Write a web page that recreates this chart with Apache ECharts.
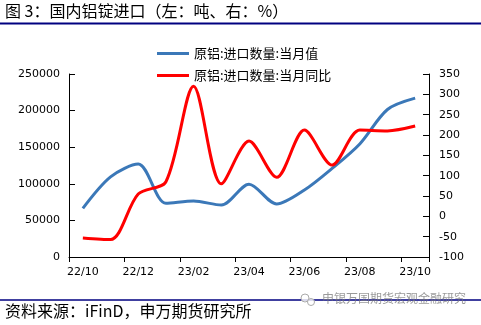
<!DOCTYPE html>
<html><head><meta charset="utf-8">
<script src="https://cdn.jsdelivr.net/npm/echarts@6/dist/echarts.min.js"></script>
<style>html,body{margin:0;padding:0;background:#fff}#c{width:481px;height:325px}</style>
</head><body><div id="c"></div>
<script>
const categories = ['22/10','22/11','22/12','23/01','23/02','23/03','23/04','23/05','23/06','23/07','23/08','23/09','23/10'];
const importVolume = [66500, 109500, 127000, 73500, 76500, 71000, 99500, 72500, 91500, 121000, 154500, 201500, 217000];
const importYoY = [-53, -57, 55, 85, 320, 80, 185, 96, 212, 126, 212, 210, 222];
const seriesNames = ['原铝:进口数量:当月值', '原铝:进口数量:当月同比'];
const leftTicks = {min: 0, max: 250000, interval: 50000};
const rightTicks = {min: -100, max: 350, interval: 50};
const titleText = '图 3：国内铝锭进口（左：吨、右：%）';
const sourceText = '资料来源：iFinD，申万期货研究所';
const watermarkText = '申银万国期货宏观金融研究';

const chart = echarts.init(document.getElementById('c'), null, {renderer: 'canvas'});
const axisFont = {fontFamily: 'DejaVu Sans', fontSize: 11, color: '#000'};
const cjk = '"Noto Sans CJK SC", "Noto Sans", sans-serif';
chart.setOption({
  animation: false,
  backgroundColor: '#fff',
  grid: {left: 69, right: 52, top: 74, bottom: 68},
  legend: {
    orient: 'vertical', left: 152, top: 42, itemGap: 9,
    itemWidth: 32, itemHeight: 3, icon: 'rect',
    textStyle: {fontFamily: cjk, fontSize: 13, color: '#000'},
    data: seriesNames
  },
  xAxis: {
    type: 'category', data: categories, boundaryGap: true,
    axisLine: {lineStyle: {color: '#000', width: 1}},
    axisTick: {show: true, interval: 1, length: 5, lineStyle: {color: '#000'}},
    axisLabel: Object.assign({interval: 1, margin: 10}, axisFont),
    splitLine: {show: false}
  },
  yAxis: [{
    type: 'value', min: leftTicks.min, max: leftTicks.max, interval: leftTicks.interval,
    axisLine: {show: true, lineStyle: {color: '#000'}},
    axisTick: {show: true, inside: true, length: 6, lineStyle: {color: '#000'}},
    axisLabel: Object.assign({margin: 9, formatter: v => String(v)}, axisFont),
    splitLine: {show: false}
  }, {
    type: 'value', min: rightTicks.min, max: rightTicks.max, interval: rightTicks.interval,
    position: 'right',
    axisLine: {show: true, lineStyle: {color: '#000'}},
    axisTick: {show: true, inside: true, length: 6, lineStyle: {color: '#000'}},
    axisLabel: Object.assign({margin: 10, formatter: v => String(v)}, axisFont),
    splitLine: {show: false}
  }],
  series: [{
    name: seriesNames[0], type: 'line', yAxisIndex: 0, data: importVolume,
    smooth: 0.3, symbol: 'none', color: '#3b78b8',
    lineStyle: {width: 3, color: '#3b78b8'}
  }, {
    name: seriesNames[1], type: 'line', yAxisIndex: 1, data: importYoY,
    smooth: 0.3, symbol: 'none', color: '#ff0000',
    lineStyle: {width: 3, color: '#ff0000'}
  }],
  graphic: [
    {type: 'text', left: 5, top: 3, style: {text: titleText, font: '16px ' + cjk, fill: '#000'}},
    {type: 'line', shape: {x1: 0, y1: 23.5, x2: 481, y2: 23.5}, style: {stroke: '#000080', lineWidth: 2}},
    {type: 'line', shape: {x1: 0, y1: 300, x2: 481, y2: 300}, style: {stroke: '#000080', lineWidth: 1.5}},
    {type: 'text', left: 5, top: 303, style: {text: sourceText, font: '16px ' + cjk, fill: '#000'}},
    {type: 'circle', shape: {cx: 305, cy: 298, r: 4}, style: {fill: 'rgba(255,255,255,0.8)', stroke: '#aaa', lineWidth: 1}, z: 10},
    {type: 'circle', shape: {cx: 311, cy: 302, r: 3.5}, style: {fill: 'rgba(255,255,255,0.8)', stroke: '#aaa', lineWidth: 1}, z: 10},
    {type: 'text', left: 322, top: 292, z: 10, style: {text: watermarkText, font: '12px ' + cjk, fill: 'rgba(120,120,120,0.75)'}}
  ]
});
</script></body></html>
